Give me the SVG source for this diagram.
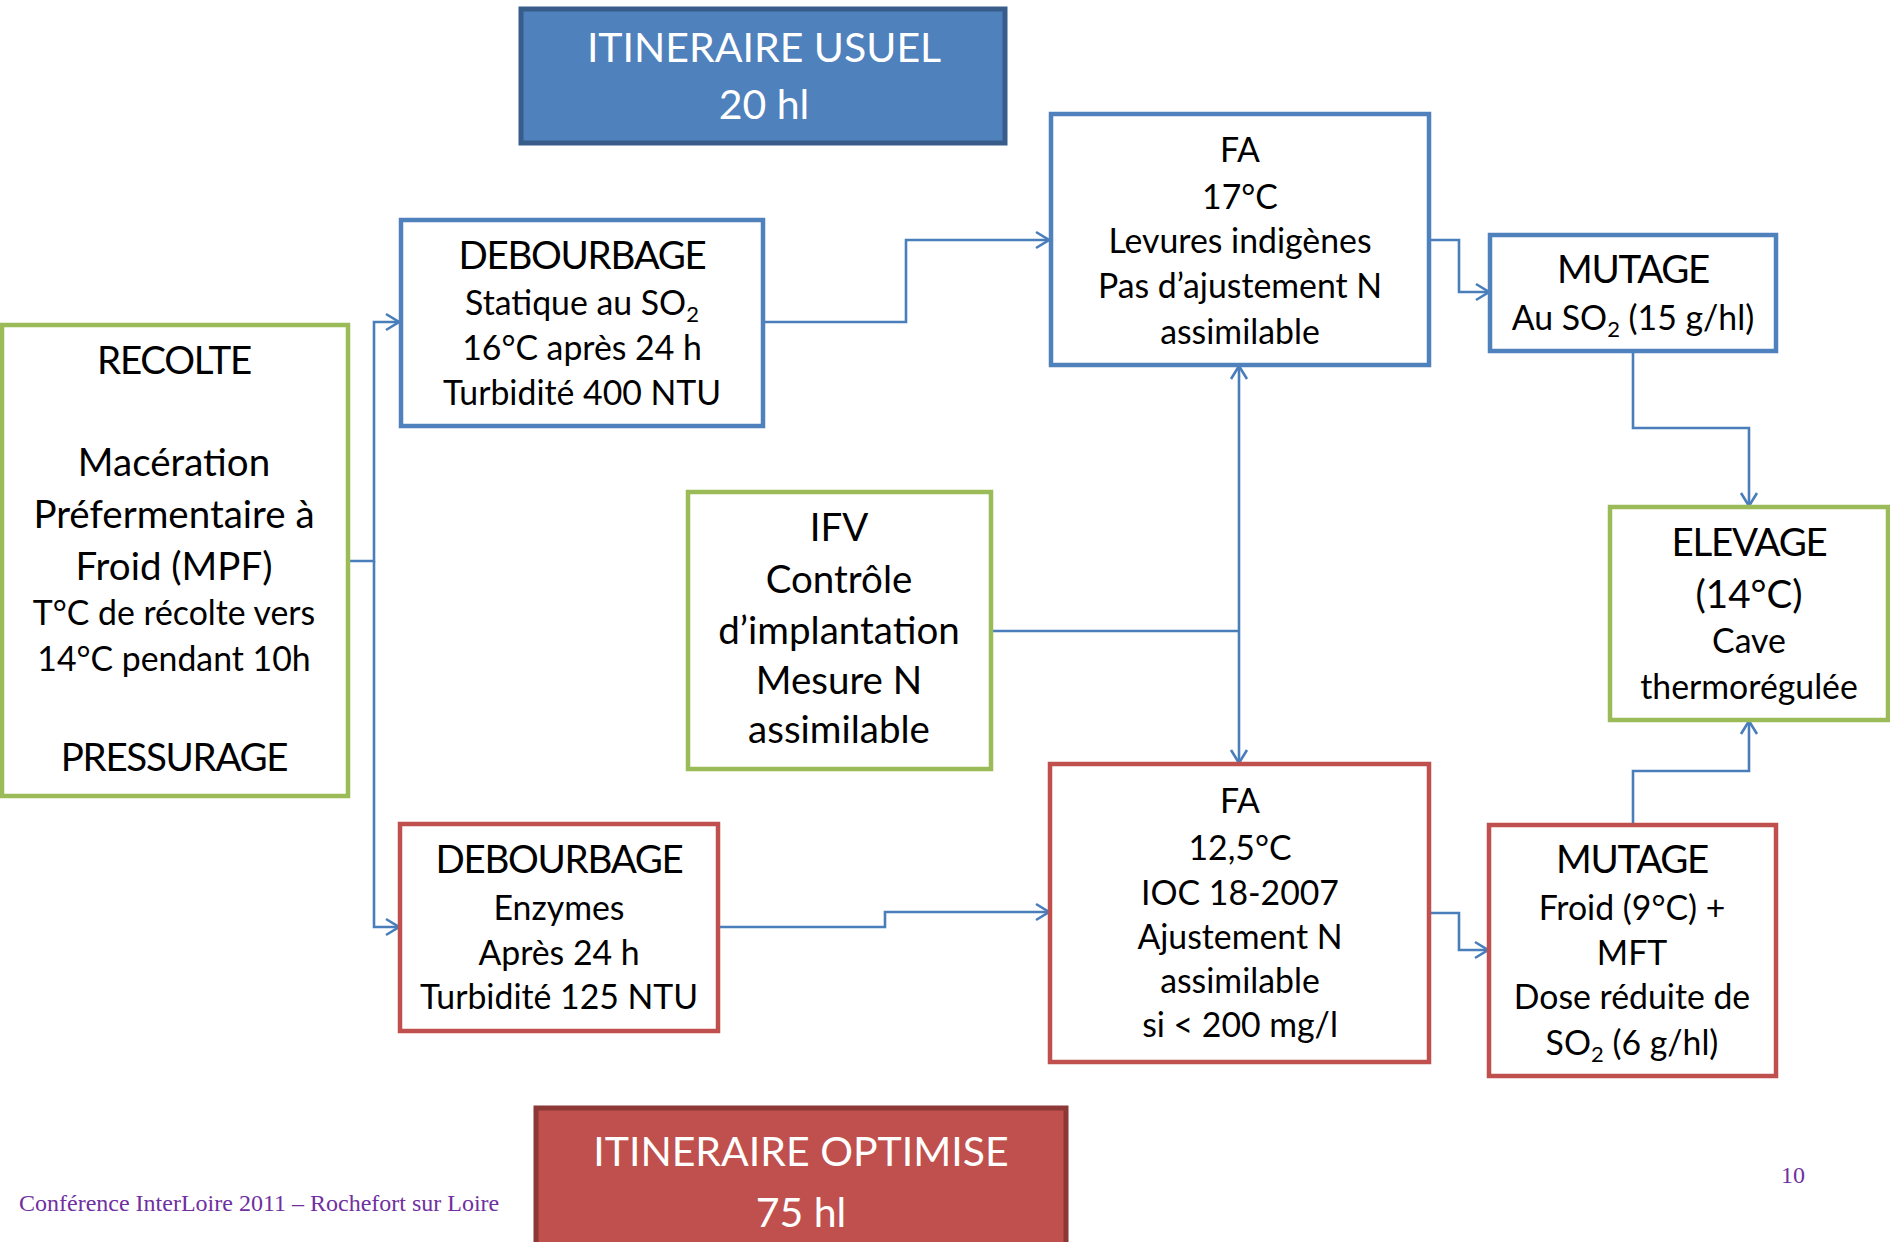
<svg xmlns="http://www.w3.org/2000/svg" width="1890" height="1242" viewBox="0 0 1890 1242">
<defs>
<style>
text{font-family:Lato,"Open Sans","Liberation Sans",sans-serif;fill:#000;text-anchor:middle}
.b{font-size:38.5px}
.s{font-size:33.8px}
.cap{letter-spacing:-1.3px}
.t{font-size:41px;fill:#fff}
.box{fill:#fff;stroke-width:4.5}
.blue{stroke:#4F81BD}
.green{stroke:#9BBB59}
.red{stroke:#C0504D}
.sub{font-size:22px}
.conn{fill:none;stroke:#4A7EBB;stroke-width:2.6}
.foot{font-family:"Liberation Serif","Times New Roman",serif;fill:#7030A0;font-size:24px}
</style>
<marker id="arr" viewBox="0 0 16 20" refX="15" refY="10" markerWidth="16" markerHeight="20" markerUnits="userSpaceOnUse" orient="auto">
<path d="M2,2 L15,10 L2,18" fill="none" stroke="#4A7EBB" stroke-width="2.6"/>
</marker>
</defs>
<rect width="1890" height="1242" fill="#fff"/>

<g id="title-usuel">
<rect x="521" y="9" width="484" height="134" fill="#4F81BD" stroke="#385D8A" stroke-width="5"/>
<text class="t" x="764" y="62">ITINERAIRE USUEL</text>
<text class="t" x="764" y="119">20 hl</text>
</g>

<g id="title-optimise">
<rect x="536" y="1108" width="530" height="150" fill="#C0504D" stroke="#8C3836" stroke-width="5"/>
<text class="t" x="801" y="1166">ITINERAIRE OPTIMISE</text>
<text class="t" x="801" y="1227">75 hl</text>
</g>

<g id="connectors">
<path class="conn" d="M348,561 H374 V322 H399" marker-end="url(#arr)"/>
<path class="conn" d="M374,561 V927 H399" marker-end="url(#arr)"/>
<path class="conn" d="M763,322 H906 V240 H1049" marker-end="url(#arr)"/>
<path class="conn" d="M1429,240 H1459 V292 H1489" marker-end="url(#arr)"/>
<path class="conn" d="M1633,351 V428 H1749 V506" marker-end="url(#arr)"/>
<path class="conn" d="M991,631 H1239"/>
<path class="conn" d="M1239,631 V366" marker-end="url(#arr)"/>
<path class="conn" d="M1239,631 V763" marker-end="url(#arr)"/>
<path class="conn" d="M718,927 H885 V912 H1049" marker-end="url(#arr)"/>
<path class="conn" d="M1429,913 H1459 V950 H1488" marker-end="url(#arr)"/>
<path class="conn" d="M1633,825 V771 H1749 V721" marker-end="url(#arr)"/>
</g>

<g id="recolte">
<rect class="box green" x="2" y="325" width="346" height="471"/>
<text class="b cap" x="174" y="374">RECOLTE</text>
<text class="b" x="174" y="476">Macération</text>
<text class="b" x="174" y="528">Préfermentaire à</text>
<text class="b" x="174" y="580">Froid (MPF)</text>
<text class="s" x="174" y="625">T°C de récolte vers</text>
<text class="s" x="174" y="671">14°C pendant 10h</text>
<text class="b cap" x="174" y="771">PRESSURAGE</text>
</g>

<g id="debourbage-usuel">
<rect class="box blue" x="401" y="220" width="362" height="206"/>
<text class="b cap" x="582" y="269">DEBOURBAGE</text>
<text class="s" x="582" y="315">Statique au SO<tspan class="sub" dy="7">2</tspan></text>
<text class="s" x="582" y="360">16°C après 24 h</text>
<text class="s" x="582" y="405">Turbidité 400 NTU</text>
</g>

<g id="fa-usuel">
<rect class="box blue" x="1051" y="114" width="378" height="251"/>
<text class="s" x="1240" y="162">FA</text>
<text class="s" x="1240" y="209">17°C</text>
<text class="s" x="1240" y="253">Levures indigènes</text>
<text class="s" x="1240" y="298">Pas d’ajustement N</text>
<text class="s" x="1240" y="344">assimilable</text>
</g>

<g id="mutage-usuel">
<rect class="box blue" x="1490" y="235" width="286" height="116"/>
<text class="b cap" x="1633" y="283">MUTAGE</text>
<text class="s" x="1633" y="330">Au SO<tspan class="sub" dy="7">2</tspan><tspan dy="-7"> (15 g/hl)</tspan></text>
</g>

<g id="elevage">
<rect class="box green" x="1610" y="507" width="278" height="213"/>
<text class="b cap" x="1749" y="556">ELEVAGE</text>
<text class="b" x="1749" y="608">(14°C)</text>
<text class="s" x="1749" y="653">Cave</text>
<text class="s" x="1749" y="699">thermorégulée</text>
</g>

<g id="ifv">
<rect class="box green" x="688" y="492" width="303" height="277"/>
<text class="b" x="839" y="541">IFV</text>
<text class="b" x="839" y="593">Contrôle</text>
<text class="b" x="839" y="644">d’implantation</text>
<text class="b" x="839" y="694">Mesure N</text>
<text class="b" x="839" y="743">assimilable</text>
</g>

<g id="debourbage-optimise">
<rect class="box red" x="400" y="824" width="318" height="207"/>
<text class="b cap" x="559" y="873">DEBOURBAGE</text>
<text class="s" x="559" y="920">Enzymes</text>
<text class="s" x="559" y="965">Après 24 h</text>
<text class="s" x="559" y="1009">Turbidité 125 NTU</text>
</g>

<g id="fa-optimise">
<rect class="box red" x="1050" y="764" width="379" height="298"/>
<text class="s" x="1240" y="813">FA</text>
<text class="s" x="1240" y="860">12,5°C</text>
<text class="s" x="1240" y="905">IOC 18-2007</text>
<text class="s" x="1240" y="949">Ajustement N</text>
<text class="s" x="1240" y="993">assimilable</text>
<text class="s" x="1240" y="1037">si &lt; 200 mg/l</text>
</g>

<g id="mutage-optimise">
<rect class="box red" x="1489" y="825" width="287" height="251"/>
<text class="b cap" x="1632" y="873">MUTAGE</text>
<text class="s" x="1632" y="920">Froid (9°C) +</text>
<text class="s" x="1632" y="965">MFT</text>
<text class="s" x="1632" y="1009">Dose réduite de</text>
<text class="s" x="1632" y="1055">SO<tspan class="sub" dy="7">2</tspan><tspan dy="-7"> (6 g/hl)</tspan></text>
</g>

<g id="footer">
<text class="foot" x="19" y="1211" style="text-anchor:start">Conférence InterLoire 2011 – Rochefort sur Loire</text>
<text class="foot" x="1793" y="1183">10</text>
</g>
</svg>
